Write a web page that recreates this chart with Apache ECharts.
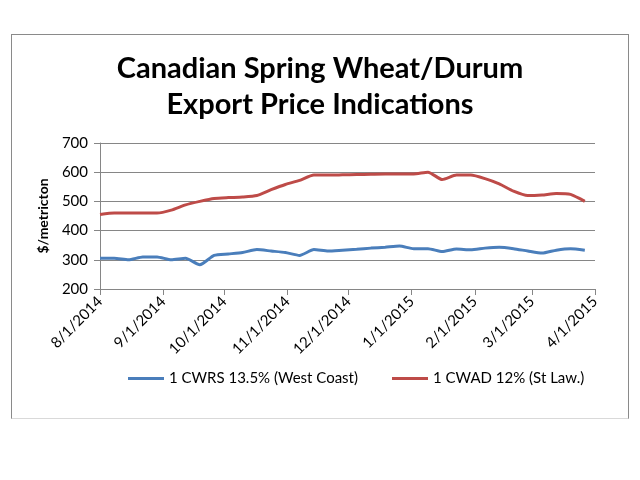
<!DOCTYPE html>
<html>
<head>
<meta charset="utf-8">
<script src="https://cdn.jsdelivr.net/npm/echarts@6/dist/echarts.min.js"></script>
<style>
html,body{margin:0;padding:0;background:#fff;}
#frame{position:absolute;left:11px;top:34px;width:618px;height:385px;border:1px solid #8a8a8a;border-bottom-color:#d9d9d9;box-sizing:border-box;}
#c{position:absolute;left:0;top:0;width:640px;height:480px;}
</style>
</head>
<body>
<div id="frame"></div>
<div id="c"></div>
<script>
var dates = ['2014-08-01','2014-08-08','2014-08-15','2014-08-22','2014-08-29','2014-09-05','2014-09-12','2014-09-19','2014-09-26',
  '2014-10-03','2014-10-10','2014-10-17','2014-10-24','2014-10-31','2014-11-07','2014-11-14','2014-11-21','2014-11-28',
  '2014-12-05','2014-12-12','2014-12-19','2014-12-26','2015-01-02','2015-01-09','2015-01-16','2015-01-23','2015-01-30',
  '2015-02-06','2015-02-13','2015-02-20','2015-02-27','2015-03-06','2015-03-13','2015-03-20','2015-03-27'];
var cwrs = [305,305,300,310,310,300,305,283,315,
  320,325,335,330,325,315,335,330,333,
  336,340,343,347,338,338,328,337,334,
  340,343,338,330,323,333,338,333];
var cwad = [455,460,460,460,460,470,488,500,510,
  513,515,520,540,558,572,590,590,591,
  592,593,594,594,594,600,575,590,590,
  578,560,535,520,522,527,524,500];
var yTicks = [200,300,400,500,600,700];
var seriesNames = ['1 CWRS 13.5% (West Coast)','1 CWAD 12% (St Law.)'];

function pairs(vals){ return dates.map(function(d,i){ return [d, vals[i]]; }); }

var chart = echarts.init(document.getElementById('c'));
var font = 'Lato, "Open Sans", sans-serif';
chart.setOption({
  animation:false,
  title:{
    text:'Canadian Spring Wheat/Durum\nExport Price Indications',
    left:'center', top:46,
    textStyle:{fontFamily:font,fontWeight:'bold',fontSize:29,color:'#000',lineHeight:36}
  },
  legend:{
    bottom:89, left:123, itemWidth:36, itemHeight:3, itemGap:34,
    icon:'rect',
    textStyle:{fontFamily:font,fontSize:15,color:'#000'},
    data:seriesNames
  },
  grid:{left:100,right:45,top:143,bottom:191,containLabel:false},
  xAxis:{
    type:'time',
    min:'2014-08-01', max:'2015-04-01',
    splitNumber:8,
    minInterval:28*86400000, maxInterval:31*86400000,
    axisLine:{lineStyle:{color:'#868686',width:1}},
    axisTick:{show:true,length:6,lineStyle:{color:'#868686'}},
    splitLine:{show:false},
    axisLabel:{rotate:45,fontFamily:font,fontSize:15,color:'#000',margin:10,
      formatter:function(v){ var d=new Date(v); return (d.getMonth()+1)+'/'+d.getDate()+'/'+d.getFullYear(); },
      showMinLabel:true, showMaxLabel:true}
  },
  yAxis:{
    type:'value', min:yTicks[0], max:yTicks[yTicks.length-1], interval:100,
    name:'$/metricton', nameLocation:'middle', nameGap:50, nameRotate:90,
    nameTextStyle:{fontFamily:font,fontWeight:'bold',fontSize:14,color:'#000'},
    axisLine:{show:true,lineStyle:{color:'#868686'}},
    axisTick:{show:true,length:6,lineStyle:{color:'#868686'}},
    splitLine:{lineStyle:{color:'#868686',width:1}},
    axisLabel:{fontFamily:font,fontSize:15,color:'#000',margin:12}
  },
  series:[
    {name:seriesNames[0],type:'line',data:pairs(cwrs),showSymbol:false,smooth:0.2,
     lineStyle:{color:'#4a7ebb',width:3},itemStyle:{color:'#4a7ebb'}},
    {name:seriesNames[1],type:'line',data:pairs(cwad),showSymbol:false,smooth:0.2,
     lineStyle:{color:'#be4b48',width:3},itemStyle:{color:'#be4b48'}}
  ]
});
</script>
</body>
</html>
